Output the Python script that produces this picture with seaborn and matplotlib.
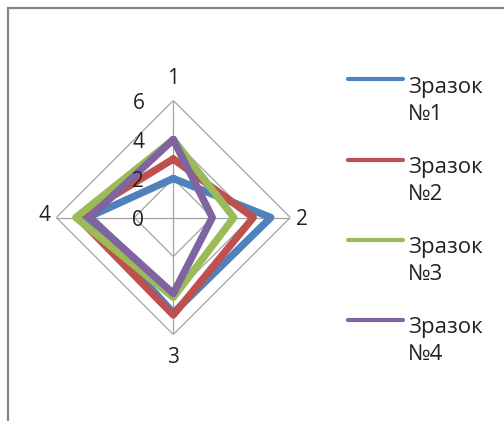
import numpy as np
import pandas as pd
import matplotlib
matplotlib.use("Agg")
import matplotlib.pyplot as plt
from matplotlib.lines import Line2D
from matplotlib.legend_handler import HandlerLine2D
from matplotlib.patches import Rectangle
import seaborn as sns

# Radar axes (clockwise from the top) and sample values
axis_names = ["1", "2", "3", "4"]
sample_names = ["Зразок №1", "Зразок №2", "Зразок №3", "Зразок №4"]
sample1 = [2.0, 5.0, 4.9, 4.4]
sample2 = [3.0, 4.1, 5.0, 4.9]
sample3 = [4.0, 3.1, 4.1, 5.0]
sample4 = [4.0, 2.0, 3.9, 4.3]
scale_ticks = [0, 2, 4, 6]
palette = ["#4F81BD", "#C0504D", "#9BBB59", "#8064A2"]

sns.set_theme(style="white")
plt.rcParams["font.family"] = ["Open Sans", "DejaVu Sans"]
FS = 15
LEG_FS = 16
GRID = "#a3a3a3"

n = len(axis_names)
theta = np.arange(n) * 2 * np.pi / n
theta_closed = np.append(theta, 2 * np.pi)

rows = []
for name, vals in zip(sample_names, [sample1, sample2, sample3, sample4]):
    closed = list(vals) + [vals[0]]
    for t, v in zip(theta_closed, closed):
        rows.append({"theta": t, "value": v, "sample": name})
df = pd.DataFrame(rows)

W, H = 504, 421
fig = plt.figure(figsize=(W / 100, H / 100), dpi=100)
fig.patch.set_facecolor("white")

# polar axes: centre at (173, 217.5) px, radius 117 px for the value 6
cx, cy, rad = 173.3, 217.5, 117.0
ax = fig.add_axes([(cx - rad) / W, (H - cy - rad) / H, 2 * rad / W, 2 * rad / H],
                  projection="polar")
ax.set_theta_zero_location("N")
ax.set_theta_direction(-1)
ax.set_ylim(0, 6)
ax.set_xticks([])
ax.set_yticks([])
ax.grid(False)
ax.spines["polar"].set_visible(False)
ax.set_facecolor("white")

# straight (diamond) gridlines and spokes
for lvl in scale_ticks[1:]:
    ax.plot(theta_closed, [lvl] * (n + 1), color=GRID, lw=0.9, zorder=1)
for t in theta:
    ax.plot([t, t], [0, scale_ticks[-1]], color=GRID, lw=0.9, zorder=1)

sns.lineplot(data=df, x="theta", y="value", hue="sample", palette=palette,
             sort=False, estimator=None, lw=5.3, legend=False, ax=ax, zorder=3)
for ln in ax.lines[-4:]:
    ln.set_solid_joinstyle("round")
    ln.set_solid_capstyle("round")
ax.set_xlabel("")
ax.set_ylabel("")

# category labels around the outer ring
label_offsets = [(0, 22), (12, -2), (0, -23), (-12, 2)]
for t, name, off in zip(theta, axis_names, label_offsets):
    ax.annotate(name, xy=(t, scale_ticks[-1]), xytext=off, textcoords="offset pixels",
                ha="center", va="center", fontsize=FS, color="#222222")

# value scale along the first axis
for v in scale_ticks:
    ax.annotate(str(v), xy=(0, v), xytext=(-29, -3), textcoords="offset pixels",
                ha="right", va="center", fontsize=FS, color="#222222")


class UpperLineHandler(HandlerLine2D):
    """Legend line aligned with the first line of a two-line label."""

    def __init__(self, lift, **kw):
        super().__init__(**kw)
        self.lift = lift

    def create_artists(self, legend, orig_handle, xdescent, ydescent, width,
                       height, fontsize, trans):
        arts = super().create_artists(legend, orig_handle, xdescent, ydescent,
                                      width, height, fontsize, trans)
        for a in arts:
            a.set_ydata(np.asarray(a.get_ydata(), float) + self.lift)
        return arts


handles = [Line2D([], [], color=c, lw=3, solid_capstyle="round") for c in palette]
labels = [s.replace(" ", "\n") for s in sample_names]
px = LEG_FS * 100 / 72
leg = fig.legend(handles, labels, loc="upper left",
                 bbox_to_anchor=(348 / W, 1 - 77 / H), frameon=False,
                 borderpad=0, borderaxespad=0, fontsize=LEG_FS,
                 handlelength=55 / px, handletextpad=5 / px, labelspacing=1.46,
                 handler_map={Line2D: UpperLineHandler(15.5)})
for t in leg.get_texts():
    t.set_color("#222222")
    t.set_linespacing(1.35)

# chart area border (top and left edges)
fig.add_artist(Rectangle((7.5 / W, -0.5), 2.0, 1.5 - 8 / H, transform=fig.transFigure,
                         fill=False, edgecolor="#858585", lw=1.6))

fig.savefig("out.png", dpi=100, facecolor="white")
